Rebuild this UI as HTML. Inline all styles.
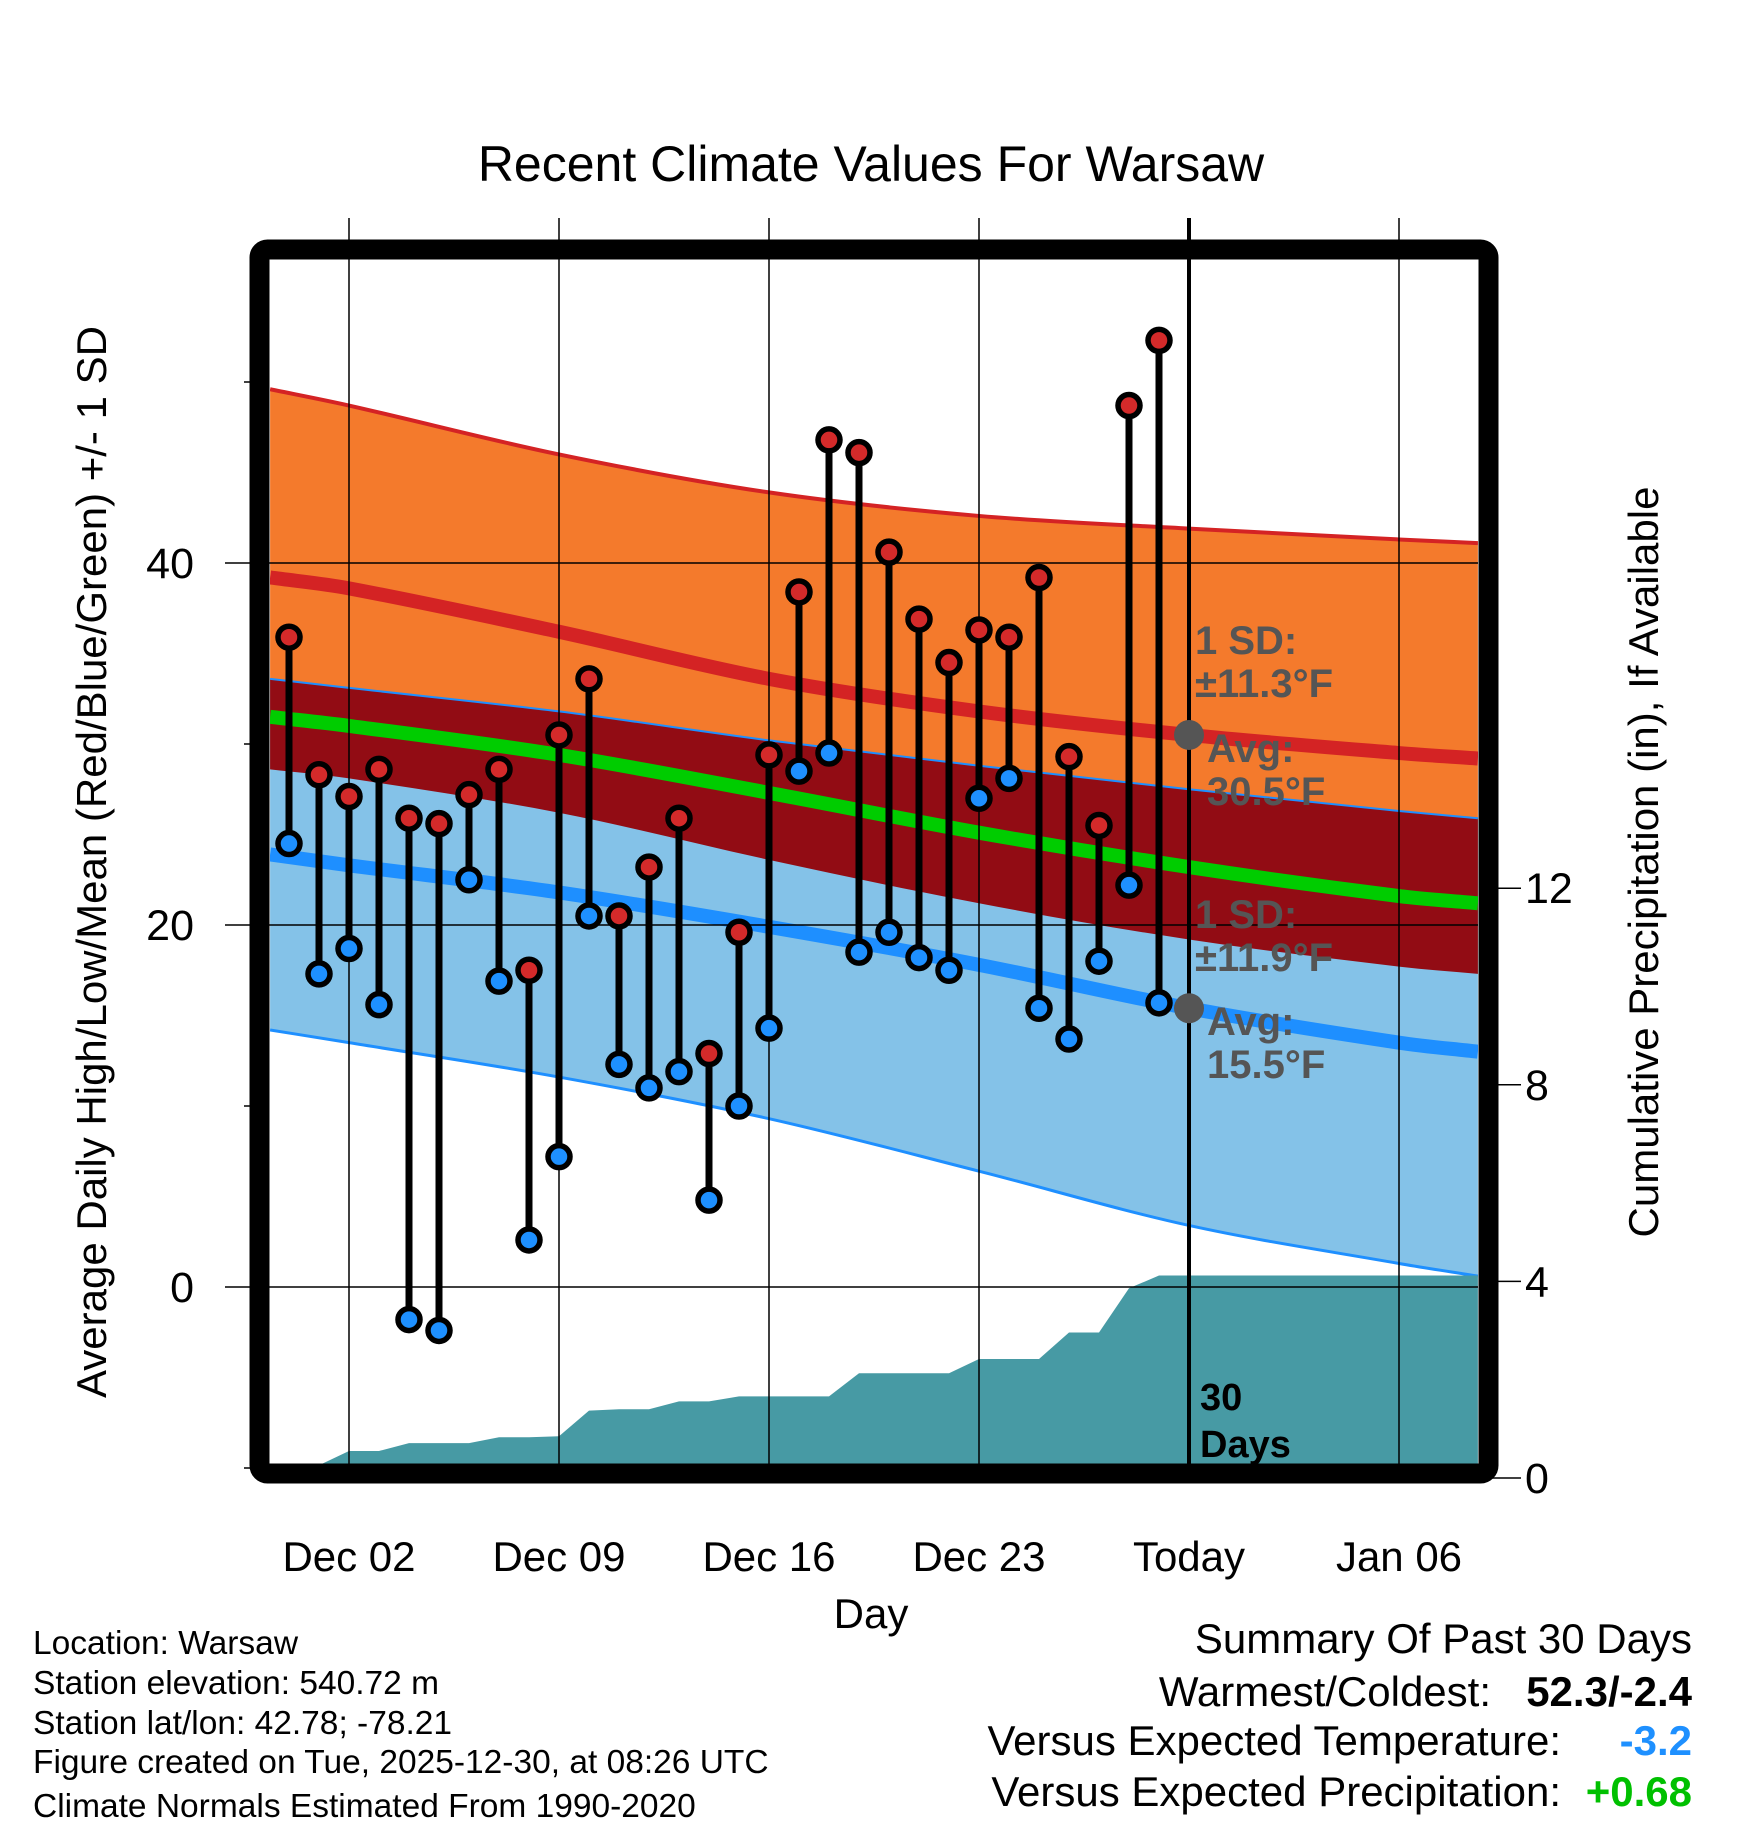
<!DOCTYPE html>
<html><head><meta charset="utf-8">
<style>
html,body{margin:0;padding:0;background:#fff;}
svg{display:block;font-family:"Liberation Sans",Arial,sans-serif;}
</style></head>
<body>
<svg id="chart" width="1748" height="1828" viewBox="0 0 1748 1828" xmlns="http://www.w3.org/2000/svg">
<defs><clipPath id="plotclip"><rect x="270" y="260" width="1208" height="1208"/></clipPath></defs>
<rect width="1748" height="1828" fill="#fff"/>
<text x="871" y="181" font-size="50" text-anchor="middle" fill="#000">Recent Climate Values For Warsaw</text>
<g id="bands" clip-path="url(#plotclip)"></g>
<g id="grid"></g>
<g id="marks"></g>
<g id="frame"></g>
<g id="labels"></g>
<text x="871" y="1628" font-size="42" text-anchor="middle">Day</text>
<text transform="translate(106,862) rotate(-90)" font-size="42" text-anchor="middle">Average Daily High/Low/Mean (Red/Blue/Green) +/- 1 SD</text>
<text transform="translate(1658,862) rotate(-90)" font-size="42" text-anchor="middle">Cumulative Precipitation (in), If Available</text>
<g font-size="33.5" fill="#000">
<text x="33" y="1654">Location: Warsaw</text>
<text x="33" y="1694">Station elevation: 540.72 m</text>
<text x="33" y="1734">Station lat/lon: 42.78; -78.21</text>
<text x="33" y="1773">Figure created on Tue, 2025-12-30, at 08:26 UTC</text>
<text x="33" y="1817">Climate Normals Estimated From 1990-2020</text>
</g>
<g font-size="42" fill="#000">
<text x="1692" y="1653" text-anchor="end">Summary Of Past 30 Days</text>
<text x="1491" y="1706" text-anchor="end">Warmest/Coldest:</text>
<text x="1692" y="1706" text-anchor="end" font-weight="bold">52.3/-2.4</text>
<text x="1561" y="1755" text-anchor="end">Versus Expected Temperature:</text>
<text x="1692" y="1755" text-anchor="end" font-weight="bold" fill="#1e90ff">-3.2</text>
<text x="1561" y="1806" text-anchor="end">Versus Expected Precipitation:</text>
<text x="1692" y="1806" text-anchor="end" font-weight="bold" fill="#00c000">+0.68</text>
</g>
</svg>
<script>
// data (days relative to Dec 02 = 0)
const dayOffsets = [-2,-1,0,1,2,3,4,5,6,7,8,9,10,11,12,13,14,15,16,17,18,19,20,21,22,23,24,25,26,27];
const highs = [35.9,28.3,27.1,28.6,25.9,25.6,27.2,28.6,17.5,30.5,33.6,20.5,23.2,25.9,12.9,19.6,29.4,38.4,46.8,46.1,40.6,36.9,34.5,36.3,35.9,39.2,29.3,25.5,48.7,52.3];
const lows = [24.5,17.3,18.7,15.6,-1.8,-2.4,22.5,16.9,2.6,7.2,20.5,12.3,11.0,11.9,4.8,10.0,14.3,28.5,29.5,18.5,19.6,18.2,17.5,27.0,28.1,15.4,13.7,18.0,22.2,15.7];
const precipDays = [-2.63,-2,-1,0,1,2,3,4,5,6,7,8,9,10,11,12,13,14,15,16,17,18,19,20,21,22,23,24,25,26,27,28,37.63];
const precip = [0.19,0.24,0.26,0.55,0.55,0.71,0.71,0.71,0.83,0.83,0.85,1.37,1.40,1.40,1.56,1.56,1.66,1.66,1.66,1.66,2.13,2.13,2.13,2.13,2.42,2.42,2.42,2.96,2.96,3.86,4.12,4.12,4.12];
const normDays = [-2.63,0,7,14,21,28,35,37.63];
const highUpper = [49.6,48.7,46.0,43.9,42.6,41.9,41.3,41.1];
const highAvg = [39.2,38.6,36.2,33.6,31.8,30.5,29.5,29.2];
const highLower = [28.6,28.1,26.2,23.6,21.2,19.2,17.7,17.3];
const lowUpper = [33.6,33.1,31.8,30.2,28.8,27.5,26.3,25.9];
const lowAvg = [23.9,23.3,21.8,19.9,17.8,15.4,13.5,13.0];
const lowLower = [14.2,13.5,11.6,9.3,6.4,3.4,1.3,0.6];
const meanAvg = [31.5,31.0,29.4,27.3,25.1,23.2,21.6,21.2];
const xTickDays = [0,7,14,21,28,35];
const xTickLabels = ["Dec 02","Dec 09","Dec 16","Dec 23","Today","Jan 06"];
const yTicks = [0,20,40];
const yMinor = [-10,10,30,50];
const y2Ticks = [0,4,8,12];

const NS="http://www.w3.org/2000/svg";
const X = d => 349 + 30*d;
const Y = v => 1287 - 18.1*v;
const YP = p => 1478 - 49.15*p;
function mk(tag, attrs, parent){const e=document.createElementNS(NS,tag);for(const k in attrs)e.setAttribute(k,attrs[k]);parent.appendChild(e);return e;}
function smooth(xs, ys){
  const pts = xs.map((d,i)=>[X(d),Y(ys[i])]);
  let s = "M"+pts[0][0]+","+pts[0][1];
  for(let i=0;i<pts.length-1;i++){
    const p0=pts[Math.max(0,i-1)],p1=pts[i],p2=pts[i+1],p3=pts[Math.min(pts.length-1,i+2)];
    const h=p2[0]-p1[0];
    const m1=(p2[1]-p0[1])/(p2[0]-p0[0]||1), m2=(p3[1]-p1[1])/(p3[0]-p1[0]||1);
    const c1=[p1[0]+h/3,p1[1]+m1*h/3];
    const c2=[p2[0]-h/3,p2[1]-m2*h/3];
    s+=" C"+c1[0]+","+c1[1]+" "+c2[0]+","+c2[1]+" "+p2[0]+","+p2[1];
  }
  return s;
}
function band(up, lo){
  const top = smooth(normDays, up);
  const rev = smooth(normDays.slice().reverse(), lo.slice().reverse());
  return top + " L" + rev.slice(1) + " Z";
}
const bands=document.getElementById('bands');
let e;
e=mk('path',{d:band(highUpper,highLower),fill:'#f47a2c'},bands);


e=mk('path',{d:band(lowUpper,lowLower),fill:'#84c2e8'},bands);


e=mk('path',{d:band(lowUpper,highLower),fill:'#920c14'},bands);


e=mk('path',{d:smooth(normDays,highUpper),fill:'none',stroke:'#d42324','stroke-width':4},bands);


e=mk('path',{d:smooth(normDays,lowUpper),fill:'none',stroke:'#1e8fff','stroke-width':2},bands);


e=mk('path',{d:smooth(normDays,lowLower),fill:'none',stroke:'#1e8fff','stroke-width':3},bands);


e=mk('path',{d:smooth(normDays,highAvg),fill:'none',stroke:'#d42324','stroke-width':14},bands);


e=mk('path',{d:smooth(normDays,meanAvg),fill:'none',stroke:'#00cc00','stroke-width':14},bands);


e=mk('path',{d:smooth(normDays,lowAvg),fill:'none',stroke:'#1e8fff','stroke-width':14},bands);


// precipitation
let pd="M"+X(precipDays[0])+","+YP(0);
precipDays.forEach((d,i)=>{pd+=" L"+X(d)+","+YP(precip[i]);});
pd+=" L"+X(precipDays[precipDays.length-1])+","+YP(0)+" Z";
e=mk('path',{d:pd,fill:'#479aa4'},bands);



// grid
const grid=document.getElementById('grid');
xTickDays.forEach((d,i)=>{
  const isToday = xTickLabels[i]==="Today";
  e=mk('line',{x1:X(d),x2:X(d),y1:218,y2:isToday?1468:1475,stroke:'#000','stroke-width':isToday?4:1.5},grid);
  
  
});
yTicks.forEach(v=>{
  e=mk('line',{x1:225,x2:1478,y1:Y(v),y2:Y(v),stroke:'#000','stroke-width':1.5},grid);
  
  
});
yMinor.forEach(v=>{
  e=mk('line',{x1:244,x2:262,y1:Y(v),y2:Y(v),stroke:'#000','stroke-width':1.5},grid);
  
  
});
y2Ticks.forEach(p=>{
  e=mk('line',{x1:1490,x2:1521,y1:YP(p),y2:YP(p),stroke:'#000','stroke-width':1.5},grid);
  
  
});

// marks
const marks=document.getElementById('marks');
dayOffsets.forEach((d,i)=>{
  e=mk('line',{x1:X(d),x2:X(d),y1:Y(highs[i]),y2:Y(lows[i]),stroke:'#000','stroke-width':7},marks);
  
  
});
dayOffsets.forEach((d,i)=>{
  e=mk('circle',{cx:X(d),cy:Y(highs[i]),r:11,fill:'#d42a2a',stroke:'#000','stroke-width':5.5},marks);
  
  
  e=mk('circle',{cx:X(d),cy:Y(lows[i]),r:11,fill:'#1e90ff',stroke:'#000','stroke-width':5.5},marks);
  
  
});
e=mk('circle',{cx:X(28),cy:Y(highAvg[5]),r:15,fill:'#555'},marks);


e=mk('circle',{cx:X(28),cy:Y(lowAvg[5]),r:15,fill:'#555'},marks);



// frame
const frame=document.getElementById('frame');
e=mk('rect',{x:259.5,y:249.5,width:1229,height:1224,rx:8,fill:'none',stroke:'#000','stroke-width':20},frame);



// labels
const labels=document.getElementById('labels');
xTickDays.forEach((d,i)=>{
  e=mk('text',{x:X(d),y:1571,'font-size':42,'text-anchor':'middle'},labels);
  e.textContent=xTickLabels[i];
  
  
});
yTicks.forEach(v=>{
  e=mk('text',{x:194,y:Y(v)+15,'font-size':43,'text-anchor':'end'},labels);
  e.textContent=String(v);
  
  
});
y2Ticks.forEach(p=>{
  e=mk('text',{x:1525,y:YP(p)+15,'font-size':43,'text-anchor':'start'},labels);
  e.textContent=String(p);
  
  
});
const ann=[["1 SD:",1195,654],["±11.3°F",1195,697],["Avg:",1207,762],["30.5°F",1207,805],["1 SD:",1195,928],["±11.9°F",1195,971],["Avg:",1207,1035],["15.5°F",1207,1078]];
ann.forEach(a=>{
  e=mk('text',{x:a[1],y:a[2],'font-size':40,'font-weight':'bold',fill:'#555'},labels);
  e.textContent=a[0];
  
  
});
[["30",1200,1410],["Days",1200,1457]].forEach(a=>{
  e=mk('text',{x:a[1],y:a[2],'font-size':38,'font-weight':'bold',fill:'#000'},labels);
  e.textContent=a[0];
  
  
});
</script>
</body></html>
